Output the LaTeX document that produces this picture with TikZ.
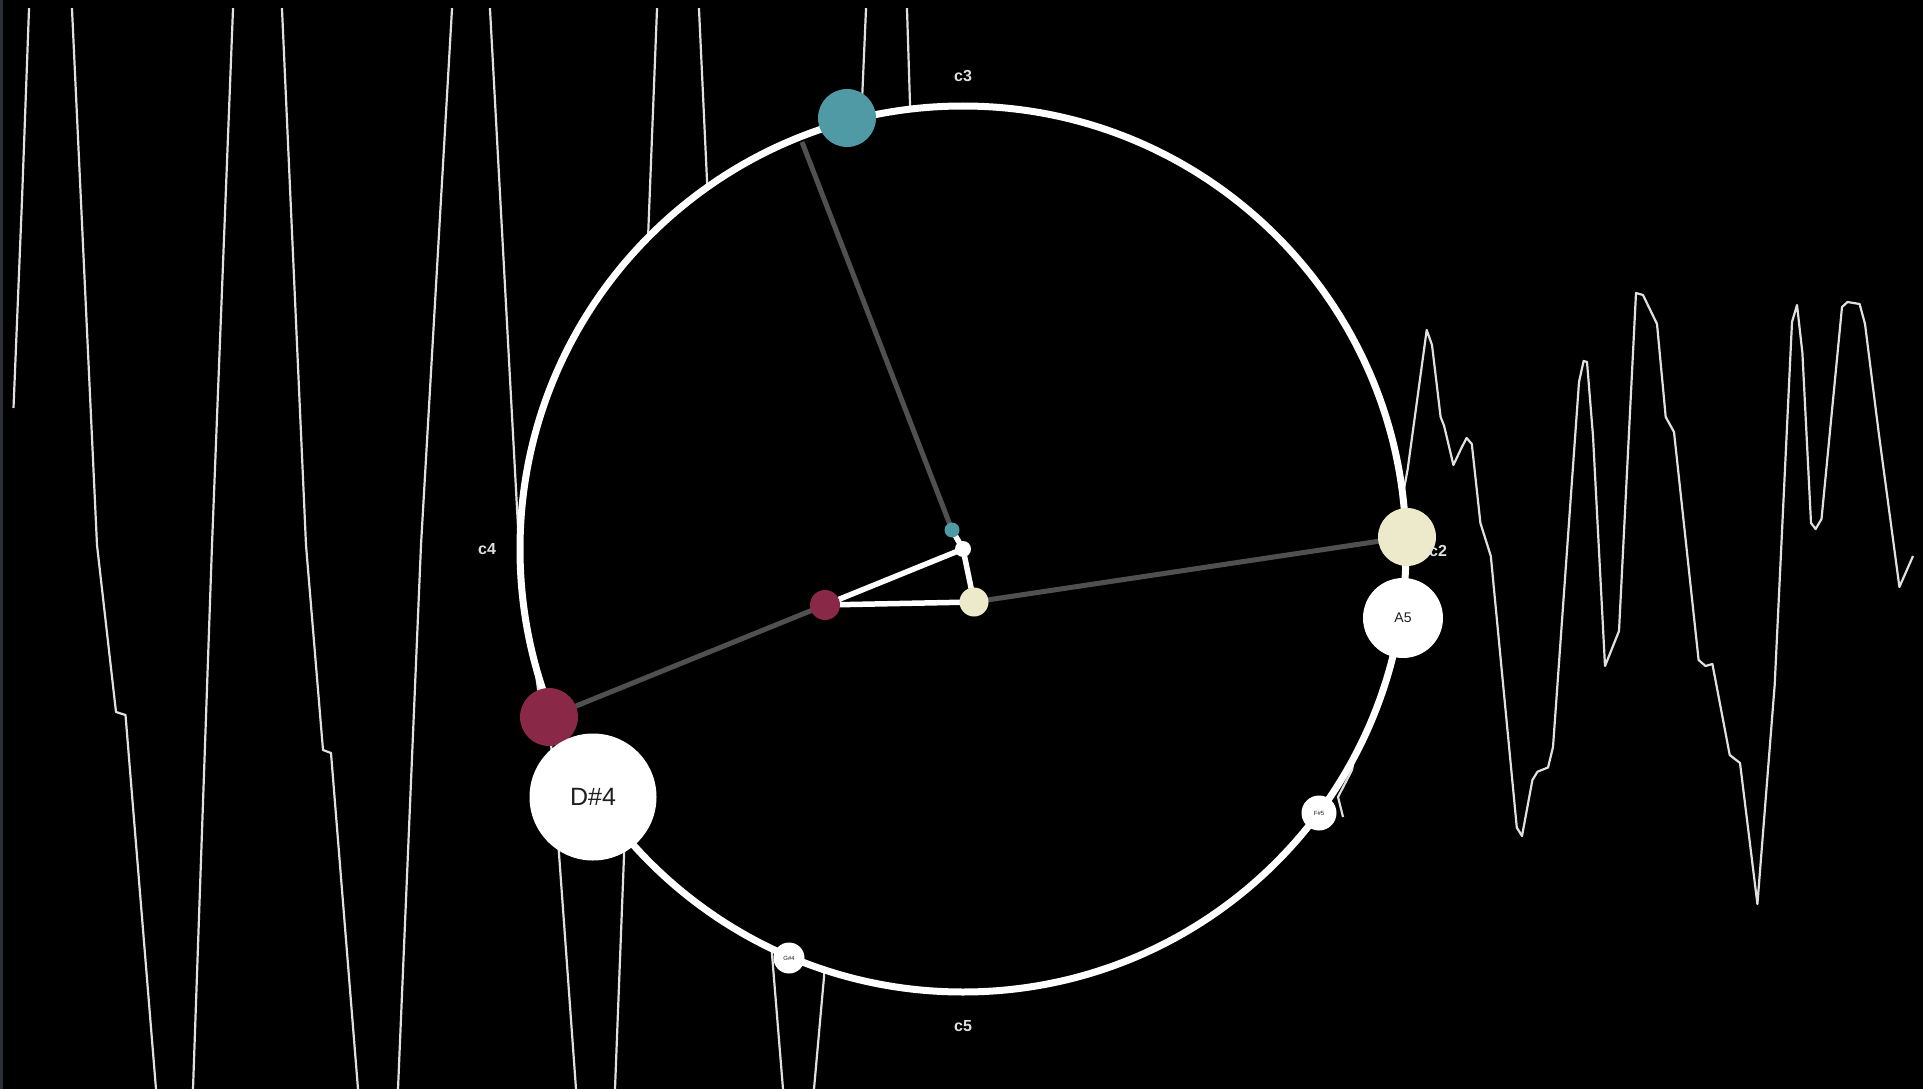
\documentclass[tikz,border=0pt]{standalone}
\usepackage{fontspec}
\setmainfont{Liberation Sans}
\definecolor{NoteTeal}{HTML}{4F9AA5}
\definecolor{NoteCrimson}{HTML}{8A2947}
\definecolor{NoteCream}{HTML}{ECEACB}
\definecolor{SpokeGray}{HTML}{505050}
\definecolor{WaveWhite}{HTML}{E0E0E0}
\definecolor{StripGray}{HTML}{2B3038}

\tikzset{
  ring/.style={draw=white, line width=7pt, fill=black},
  spoke/.style={draw=SpokeGray, line width=5pt},
  link/.style={draw=white, line width=5.5pt, line join=round},
  wave/.style={draw=WaveWhite, line width=2.2pt, line join=round},
  dot/.style={circle, inner sep=0pt, minimum size=#1},
  note/.style={circle, fill=white, inner sep=0pt, text=black!88, minimum size=#1},
  octave/.style={text=white!88!black, font=\fontsize{16}{16}\selectfont\bfseries},
}

\begin{document}
\begin{tikzpicture}[x=1pt, y=-1pt]
    \useasboundingbox (0,0) rectangle (1923,1089);
    \fill[black] (0,0) rectangle (1923,1089);
    \fill[StripGray] (0,0) rectangle (3,1089);
    % waveforms behind the ring
    \begin{scope}
        \clip (3,9) rectangle (1923,1089);
        \draw[wave] (13.5,408) -- (22,200) -- (29,9) -- (29.3,-5) -- (71.5,-5)
            -- (72,9) -- (97,545) -- (116,712) -- (125.5,715) -- (156,1089) -- (156.5,1100) -- (192.5,1100)
            -- (193,1089) -- (212,545) -- (233,9) -- (233.5,-5) -- (281.5,-5)
            -- (282,9) -- (306,545) -- (323,750) -- (331,753) -- (358,1089) -- (358.5,1100) -- (397.5,1100)
            -- (398,1089) -- (421,545) -- (452,9) -- (452.5,-5) -- (489.5,-5)
            -- (490,9) -- (519,545) -- (541,712) -- (549,715) -- (576,1089) -- (576.5,1100) -- (614.5,1100)
            -- (615,1089) -- (636,545) -- (657,9) -- (657.5,-5) -- (698.5,-5)
            -- (699,9) -- (724,545) -- (743,712) -- (752.5,715) -- (783,1089) -- (783.5,1100) -- (813.5,1100)
            -- (814,1089) -- (824,977) -- (866,9) -- (866.5,-5) -- (906.5,-5)
            -- (907,9) -- (910,104) -- (932,545);
        \draw[wave] (1343,817) -- (1338,797) -- (1352,770) -- (1407.7,469) -- (1426.7,330)
            -- (1432,345) -- (1440.6,417) -- (1444,425.5) -- (1453.4,465) -- (1461.4,448)
            -- (1466.6,438) -- (1471.8,444) -- (1480.4,523) -- (1490.8,556) -- (1516.8,827.6)
            -- (1522,836) -- (1532.4,780) -- (1537.5,771.7) -- (1548,767.5) -- (1553,747)
            -- (1579,382) -- (1583.6,361) -- (1587,362) -- (1593,436) -- (1605,666)
            -- (1619,631) -- (1636,293) -- (1643,295) -- (1657,324) -- (1665.7,417)
            -- (1674,432) -- (1698.6,660) -- (1705.5,666) -- (1712.4,664) -- (1729.7,755)
            -- (1740,763) -- (1757.4,904) -- (1774.7,684.6) -- (1792,322) -- (1797,305)
            -- (1802.4,353) -- (1811,523) -- (1815.6,529) -- (1821.5,519) -- (1842,307)
            -- (1847.5,302) -- (1859.6,304) -- (1865,324) -- (1878.6,432) -- (1899.4,587)
            -- (1913,556);
    \end{scope}

    \coordinate (hub) at (963,549);
    \coordinate (tealhub) at (952,530);
    \coordinate (crimhub) at (825,605);
    \coordinate (creamhub) at (974,602);
    \coordinate (tealend) at (802,142);
    \coordinate (crimpos) at (549,717);
    \coordinate (creampos) at (1407,537);

    \draw[ring] (hub) circle[radius=443];
    % spokes to the ring
    \draw[spoke] (tealhub) -- (tealend);
    \draw[spoke] (crimhub) -- (crimpos);
    \draw[spoke] (creamhub) -- (creampos);
    \draw[link] (hub) -- (tealhub);
    \draw[link] (hub) -- (crimhub) -- (creamhub) -- cycle;

    \node[dot=15pt, fill=NoteTeal] (tealsmall) at (tealhub) {};
    \node[dot=16pt, fill=white] (centre) at (hub) {};
    \node[dot=30pt, fill=NoteCrimson] (crimsmall) at (crimhub) {};
    \node[dot=29pt, fill=NoteCream] (creamsmall) at (creamhub) {};

    \node[dot=58pt, fill=NoteTeal] (teal) at (847,118) {};
    \node[dot=58pt, fill=NoteCream] (cream) at (creampos) {};
    \node[dot=58pt, fill=NoteCrimson] (crimson) at (crimpos) {};
    \node[note=80pt, font=\fontsize{14}{14}\selectfont] (a5) at (1403,618) {A5};
    \node[note=35pt, font=\fontsize{6}{6}\selectfont] (fs5) at (1319,813) {F\#5};
    \node[note=31pt, font=\fontsize{6}{6}\selectfont] (gs4) at (789,958) {G\#4};
    \node[note=127pt, font=\fontsize{25}{25}\selectfont] (ds4) at (593,797) {D\#4};

    \node[octave] (lblc3) at (963,76) {c3};
    \node[octave] (lblc4) at (487,549) {c4};
    \node[octave] (lblc5) at (963,1026) {c5};
    \node[octave] (lblc2) at (1438,551) {c2};
\end{tikzpicture}
\end{document}
